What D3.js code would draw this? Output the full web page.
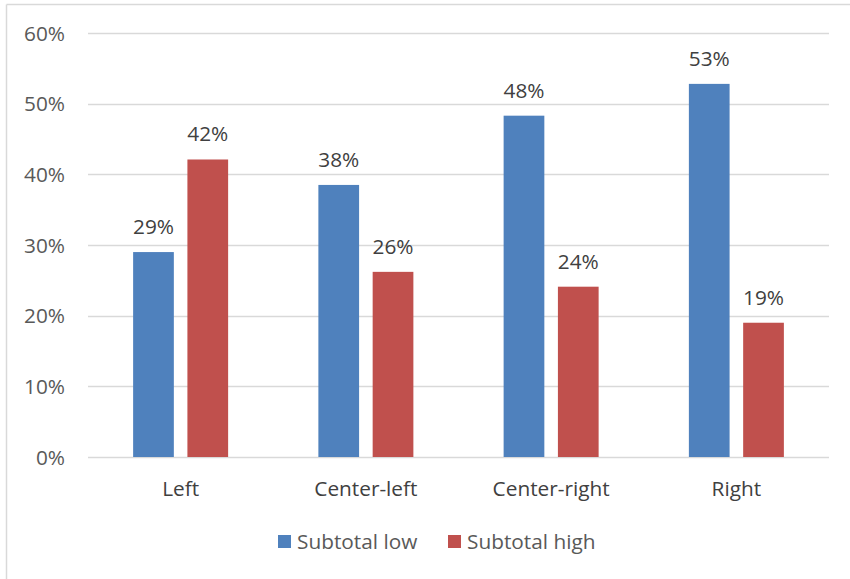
<!DOCTYPE html>
<html><head><meta charset="utf-8">
<script src="https://cdn.jsdelivr.net/npm/d3@7"></script>
<style>body{margin:0;background:#fff;} svg{display:block;}</style>
</head><body>
<script>
const categories = ["Left", "Center-left", "Center-right", "Right"];
const seriesNames = ["Subtotal low", "Subtotal high"];
const subtotalLow = [0.29, 0.385, 0.483, 0.528];
const subtotalHigh = [0.421, 0.262, 0.241, 0.190];
const yTicks = [0, 0.1, 0.2, 0.3, 0.4, 0.5, 0.6];
const labelsLow = ["29%", "38%", "48%", "53%"];
const labelsHigh = ["42%", "26%", "24%", "19%"];
const colors = ["#4f81bd", "#c0504d"];

const W = 850, H = 579;
const svg = d3.select("body").append("svg").attr("width", W).attr("height", H);
const font = "'Open Sans', 'Liberation Sans', sans-serif";
const fs = 20.8;

// chart border (top and left visible)
svg.append("line").attr("x1", 6.5).attr("x2", W).attr("y1", 4.5).attr("y2", 4.5).attr("stroke", "#d9d9d9").attr("stroke-width", 1.5);
svg.append("line").attr("x1", 6.5).attr("x2", 6.5).attr("y1", 4.5).attr("y2", H).attr("stroke", "#d9d9d9").attr("stroke-width", 1.5);

const x0 = d3.scaleBand().domain(categories).range([88, 829]).paddingInner(0).paddingOuter(0);
const y = d3.scaleLinear().domain([0, 0.6]).range([457, 33]);
const x1 = d3.scaleBand().domain(seriesNames).range([0, 95]).paddingInner(0.25);

// gridlines
svg.append("g").selectAll("line").data(yTicks).join("line")
  .attr("x1", 88).attr("x2", 829)
  .attr("y1", d => Math.round(y(d)) + 0.5).attr("y2", d => Math.round(y(d)) + 0.5)
  .attr("stroke", "#d9d9d9").attr("stroke-width", 1.5);

// y axis labels
const yAxis = d3.axisLeft(y).tickValues(yTicks).tickFormat(d3.format(".0%")).tickSize(0).tickPadding(0);
const ya = svg.append("g").attr("transform", "translate(65,0)").call(yAxis);
ya.select(".domain").remove();
ya.selectAll("text").attr("font-family", font).attr("font-size", fs).attr("fill", "#595959").attr("dy", "0.35em");

// x axis labels
const xAxis = d3.axisBottom(x0).tickSize(0).tickPadding(0);
const xa = svg.append("g").attr("transform", "translate(0,481)").call(xAxis);
xa.select(".domain").remove();
xa.selectAll("text").attr("font-family", font).attr("font-size", fs).attr("fill", "#404040").attr("dy", "0.71em");

const data = categories.map((c, i) => ({cat: c, vals: [
  {s: seriesNames[0], v: subtotalLow[i], l: labelsLow[i]},
  {s: seriesNames[1], v: subtotalHigh[i], l: labelsHigh[i]}]}));

const groups = svg.append("g").selectAll("g").data(data).join("g")
  .attr("transform", d => `translate(${x0(d.cat) + x0.bandwidth()/2 - 47.5},0)`);

groups.selectAll("rect").data(d => d.vals).join("rect")
  .attr("x", d => x1(d.s)).attr("width", x1.bandwidth())
  .attr("y", d => y(d.v)).attr("height", d => y(0) - y(d.v))
  .attr("fill", (d, i) => colors[i]);

groups.selectAll("text").data(d => d.vals).join("text")
  .attr("x", d => x1(d.s) + x1.bandwidth()/2)
  .attr("y", d => y(d.v) - 18)
  .attr("text-anchor", "middle")
  .attr("font-family", font).attr("font-size", fs).attr("fill", "#404040")
  .text(d => d.l);

// legend
const legend = svg.append("g");
const legX = [278, 448];
seriesNames.forEach((s, i) => {
  legend.append("rect").attr("x", legX[i]).attr("y", 535).attr("width", 13).attr("height", 13).attr("fill", colors[i]);
  legend.append("text").attr("x", legX[i] + 19).attr("y", 549)
    .attr("font-family", font).attr("font-size", fs).attr("fill", "#595959").text(s);
});
</script>
</body></html>
